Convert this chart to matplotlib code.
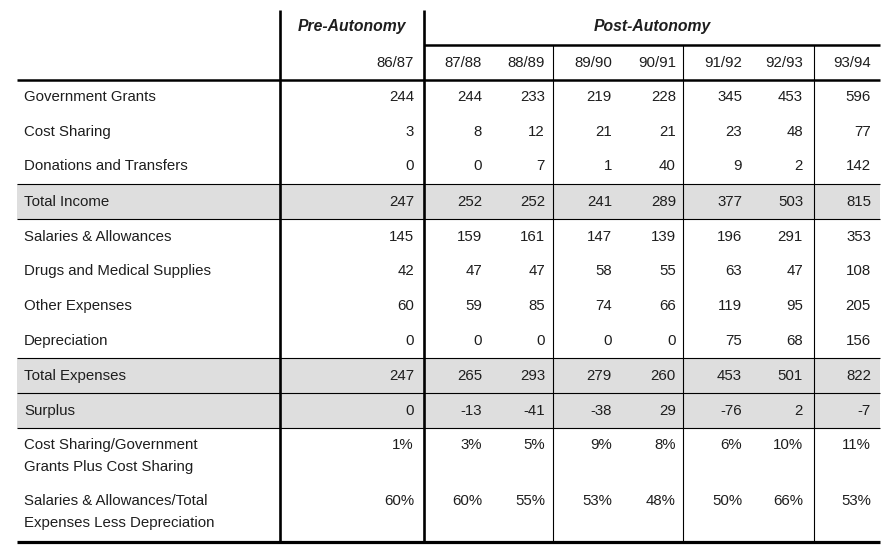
import numpy as np
import matplotlib
matplotlib.use('Agg')
import matplotlib.pyplot as plt

plt.rcParams['font.family'] = ['Liberation Sans', 'DejaVu Sans']

years = ['86/87', '87/88', '88/89', '89/90', '90/91', '91/92', '92/93', '93/94']

row_labels = ['Government Grants', 'Cost Sharing', 'Donations and Transfers', 'Total Income',
              'Salaries & Allowances', 'Drugs and Medical Supplies', 'Other Expenses',
              'Depreciation', 'Total Expenses', 'Surplus',
              'Cost Sharing/Government\nGrants Plus Cost Sharing',
              'Salaries & Allowances/Total\nExpenses Less Depreciation']

government_grants = [244, 244, 233, 219, 228, 345, 453, 596]
cost_sharing = [3, 8, 12, 21, 21, 23, 48, 77]
donations = [0, 0, 7, 1, 40, 9, 2, 142]
total_income = [247, 252, 252, 241, 289, 377, 503, 815]
salaries = [145, 159, 161, 147, 139, 196, 291, 353]
drugs = [42, 47, 47, 58, 55, 63, 47, 108]
other_expenses = [60, 59, 85, 74, 66, 119, 95, 205]
depreciation = [0, 0, 0, 0, 0, 75, 68, 156]
total_expenses = [247, 265, 293, 279, 260, 453, 501, 822]
surplus = [0, -13, -41, -38, 29, -76, 2, -7]
cost_share_pct = [1, 3, 5, 9, 8, 6, 10, 11]
salary_pct = [60, 60, 55, 53, 48, 50, 66, 53]

rows = [government_grants, cost_sharing, donations, total_income, salaries, drugs,
        other_expenses, depreciation, total_expenses, surplus, cost_share_pct, salary_pct]
shaded = ['Total Income', 'Total Expenses', 'Surplus']

# layout (pixels)
W, H = 895, 549
row_y = [97, 132, 166, 202, 237, 271, 306, 341, 376, 411, 445, 501]
row_top = [80, 114, 149, 184, 219, 253, 288, 323, 358, 393, 428, 483]
row_h = [34, 35, 35, 35, 34, 35, 35, 35, 35, 35, 55, 59]
col_right = [414, 482, 545, 612, 676, 742, 803, 871]
x0, x1 = 17, 880
txt = '#1e1e1e'
fs = 10.8

fig = plt.figure(figsize=(W / 100, H / 100), dpi=100)
ax = fig.add_axes([0, 0, 1, 1])
ax.set_xlim(0, W)
ax.set_ylim(H, 0)
ax.axis('off')

for i, label in enumerate(row_labels):
    if label in shaded:
        ax.fill_between([x0, x1], row_top[i], row_top[i] + row_h[i], color='#dedede', lw=0)

ax.text(352, 26, 'Pre-Autonomy', ha='center', va='center', fontsize=fs + 0.5,
        fontweight='bold', fontstyle='italic', color=txt)
ax.text(652, 26, 'Post-Autonomy', ha='center', va='center', fontsize=fs + 0.5,
        fontweight='bold', fontstyle='italic', color=txt)

for j, yr in enumerate(years):
    ax.text(col_right[j], 63, yr, ha='right', va='center', fontsize=fs, color=txt)

for i, label in enumerate(row_labels):
    lines = label.split('\n')
    for k, ln in enumerate(lines):
        ax.text(24, row_y[i] + k * 22, ln, ha='left', va='center', fontsize=fs, color=txt)
    pct = i >= 10
    for j, v in enumerate(rows[i]):
        s = '{}%'.format(v) if pct else str(v)
        ax.text(col_right[j], row_y[i], s, ha='right', va='center', fontsize=fs, color=txt)

# rules
ax.hlines(45, 424, x1, color='black', lw=1.8)
ax.hlines(80, x0, x1, color='black', lw=1.8)
for y in [184, 219, 358, 393, 428]:
    ax.hlines(y, x0, x1, color='black', lw=0.8)
ax.hlines(542, x0, x1, color='black', lw=2.3)
ax.vlines([280, 424], 10, 542, color='black', lw=1.9)
ax.vlines([553, 683, 814], 45, 542, color='black', lw=0.8)

plt.savefig('out.png', dpi=100)
